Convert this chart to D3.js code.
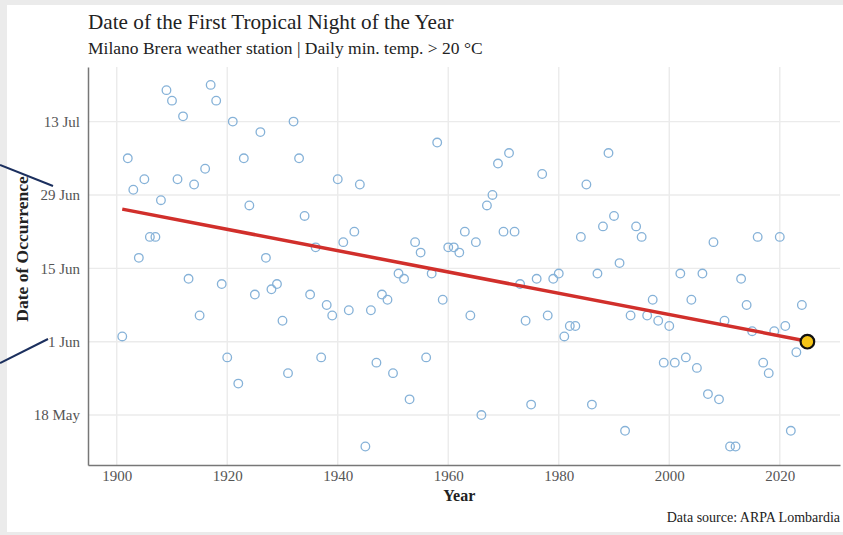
<!DOCTYPE html>
<html>
<head>
<meta charset="utf-8">
<script src="https://cdn.jsdelivr.net/npm/d3@7"></script>
<style>
  html, body { margin: 0; padding: 0; background: #ebebeb; }
  svg { display: block; }
</style>
</head>
<body>
<svg id="chart"></svg>
<script>
// first tropical night, day of year (non-leap), 1901..2024
const years = d3.range(1901, 2025);
const firstNight = [
  153, 187, 181, 168, 183, 172, 172, 179, 200, 198,
  183, 195, 164, 182, 157, 185, 201, 198, 163, 149,
  194, 144, 187, 178, 161, 192, 168, 162, 163, 156,
  146, 194, 187, 176, 161, 170, 149, 159, 157, 183,
  171, 158, 173, 182, 132, 158, 148, 161, 160, 146,
  165, 164, 141, 171, 169, 149, 165, 190, 160, 170,
  170, 169, 173, 157, 171, 138, 178, 180, 186, 173,
  188, 173, 163, 156, 140, 164, 184, 157, 164, 165,
  153, 155, 155, 172, 182, 140, 165, 174, 188, 176,
  167, 135, 157, 174, 172, 157, 160, 156, 148, 155,
  148, 165, 149, 160, 147, 165, 142, 171, 141, 156,
  132, 132, 164, 159, 154, 172, 148, 146, 154, 172,
  155, 135, 150, 159
];
const highlightYear = 2025;
const highlightDay = 152;
const trendYears = [1901, 2025];
const trendDays = [177.3, 152.1];
const yearTicks = [1900, 1920, 1940, 1960, 1980, 2000, 2020];
const dateTicks = ['18 May', '1 Jun', '15 Jun', '29 Jun', '13 Jul'];

const W = 843, H = 535;
const margin = { top: 67, right: 3, bottom: 70, left: 88 };
const parseTick = d3.timeParse('%d %b %Y');
// tick label -> day of year
const tickDoy = s => {
  const dt = parseTick(s + ' 2001');
  return d3.timeDay.count(d3.timeYear(dt), dt) + 1;
};

const svg = d3.select('#chart').attr('width', W).attr('height', H);
svg.append('rect').attr('x', 7).attr('y', 5).attr('width', W - 7).attr('height', 527).attr('fill', '#fff');

const x = d3.scaleLinear().domain([1894.8, 2030.9]).range([margin.left, W - margin.right]);
const y = d3.scaleLinear().domain([128.47, 204.42]).range([H - margin.bottom, margin.top]);

const font = '"Liberation Serif", "Times New Roman", serif';

// grid
const grid = svg.append('g').attr('stroke', '#ebebeb').attr('stroke-width', 1.4);
grid.selectAll('.gx').data(yearTicks).enter().append('line')
  .attr('x1', d => x(d)).attr('x2', d => x(d))
  .attr('y1', margin.top).attr('y2', H - margin.bottom);
grid.selectAll('.gy').data(dateTicks).enter().append('line')
  .attr('x1', margin.left).attr('x2', W - margin.right)
  .attr('y1', d => y(tickDoy(d))).attr('y2', d => y(tickDoy(d)));

// axes
const xAxis = svg.append('g')
  .attr('transform', `translate(0,${H - margin.bottom})`)
  .call(d3.axisBottom(x).tickValues(yearTicks).tickFormat(d3.format('d')).tickSize(0).tickPadding(5));
const yAxis = svg.append('g')
  .attr('transform', `translate(${margin.left},0)`)
  .call(d3.axisLeft(y).tickValues(dateTicks.map(tickDoy)).tickFormat((d, i) => dateTicks[i]).tickSize(0).tickPadding(8));
[xAxis, yAxis].forEach(a => {
  a.select('.domain').attr('stroke', '#777').attr('stroke-width', 1.5);
  a.selectAll('text').attr('font-family', font).attr('font-size', 15).attr('fill', '#555');
});

// points
svg.append('g').selectAll('circle')
  .data(years.map((yr, i) => ({ yr, d: firstNight[i] })))
  .enter().append('circle')
  .attr('cx', d => x(d.yr))
  .attr('cy', d => y(d.d))
  .attr('r', 4.3)
  .attr('fill', 'none')
  .attr('stroke', '#86b2d8')
  .attr('stroke-width', 1.3);

// trend
svg.append('path')
  .datum(trendYears.map((yr, i) => [yr, trendDays[i]]))
  .attr('d', d3.line().x(d => x(d[0])).y(d => y(d[1])))
  .attr('fill', 'none')
  .attr('stroke', '#d12f2b')
  .attr('stroke-width', 3.5);

svg.append('circle')
  .attr('cx', x(highlightYear))
  .attr('cy', y(highlightDay))
  .attr('r', 6.8)
  .attr('fill', '#f5c518')
  .attr('stroke', '#111')
  .attr('stroke-width', 2.2);

// pointer lines on the left
svg.append('line').attr('x1', 0).attr('y1', 165).attr('x2', 53).attr('y2', 186)
  .attr('stroke', '#1b2f5e').attr('stroke-width', 2);
svg.append('line').attr('x1', 0).attr('y1', 363).attr('x2', 48).attr('y2', 339)
  .attr('stroke', '#1b2f5e').attr('stroke-width', 2);

// text
svg.append('text').attr('x', 88).attr('y', 29)
  .attr('font-family', font).attr('font-size', 21.2).attr('fill', '#222')
  .text('Date of the First Tropical Night of the Year');
svg.append('text').attr('x', 88).attr('y', 54)
  .attr('font-family', font).attr('font-size', 17.5).attr('fill', '#222')
  .text('Milano Brera weather station | Daily min. temp. > 20 °C');
svg.append('text').attr('x', x(1962)).attr('y', 501)
  .attr('text-anchor', 'middle').attr('font-family', font).attr('font-weight', 'bold')
  .attr('font-size', 16).attr('fill', '#222').text('Year');
svg.append('text').attr('transform', 'translate(28,249) rotate(-90)')
  .attr('text-anchor', 'middle').attr('font-family', font).attr('font-weight', 'bold')
  .attr('font-size', 17.5).attr('fill', '#222').text('Date of Occurrence');
svg.append('text').attr('x', 840).attr('y', 522)
  .attr('text-anchor', 'end').attr('font-family', font)
  .attr('font-size', 14).attr('fill', '#222').text('Data source: ARPA Lombardia');
</script>
</body>
</html>
